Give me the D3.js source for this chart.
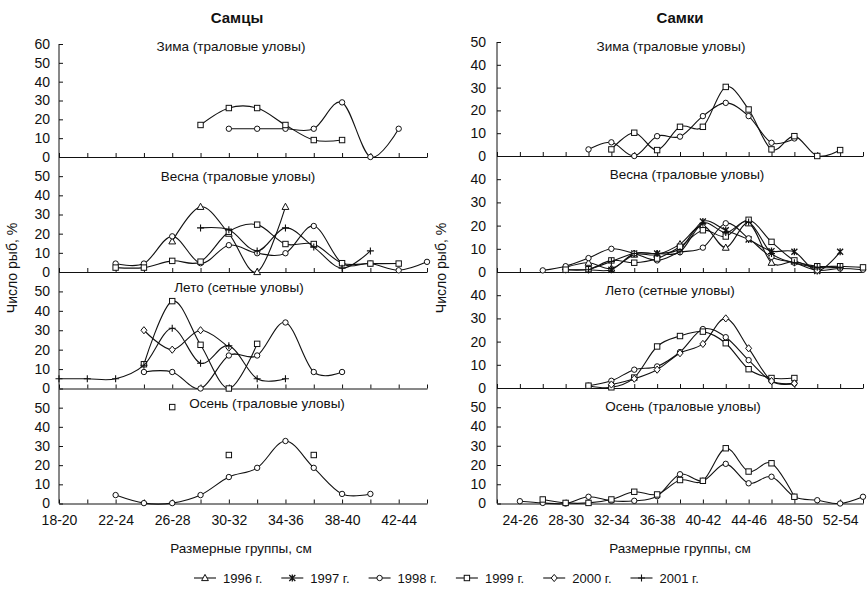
<!DOCTYPE html>
<html>
<head>
<meta charset="utf-8">
<script src="https://cdn.jsdelivr.net/npm/d3@7"></script>
<style>
  body { margin: 0; background: #fff; }
  text { font-family: "Liberation Sans", Arial, sans-serif; fill: #111; }
</style>
</head>
<body>
<div id="chart"></div>
<script>
const _ = null;

// size groups, cm
const maleCats = ["18-20","20-22","22-24","24-26","26-28","28-30","30-32","32-34",
                  "34-36","36-38","38-40","40-42","42-44","44-46"];
const femaleCats = ["22-24","24-26","26-28","28-30","30-32","32-34","34-36","36-38","38-40",
                    "40-42","42-44","44-46","46-48","48-50","50-52","52-54","54-56"];

const seasonTitles = ["Зима (траловые уловы)", "Весна (траловые уловы)",
                      "Лето (сетные уловы)", "Осень (траловые уловы)"];

const years = ["1996", "1997", "1998", "1999", "2000", "2001"];

// males, % of fish per size group
const maleWinter = {
  "1998": [_,_,_,_,_,_,15,15,15,15,29,0,15,_],
  "1999": [_,_,_,_,_,17,26,26,17,9,9,_,_,_]
};
const maleSpring = {
  "1996": [_,_,_,_,16,34,20,0,34,_,_,_,_,_],
  "1998": [_,_,4.4,4.4,18.6,4.6,14,9.8,9.8,24,4.5,4.4,0.9,5.3],
  "1999": [_,_,2.3,2.3,5.8,5.4,21,24.7,14.6,14.6,4.6,4.4,4.4,_],
  "2001": [_,_,_,_,_,23,22,11,23,13,2,11,_,_]
};
const maleSummer = {
  "1998": [_,_,_,8.5,8.5,0,17,17,34,8.5,8.5,_,_,_],
  "1999": [_,_,_,12.5,45,22.5,0,23,_,_,_,_,_,_],
  "2000": [_,_,_,30,20,30,21,_,_,_,_,_,_,_],
  "2001": [5,5,5,12,31,13,22,5,5,_,_,_,_,_]
};
const maleAutumn = {
  "1998": [_,_,4.4,0.2,0.2,4.4,13.8,18.6,32.6,18.6,5,5,_,_],
  "1999": [_,_,_,_,50.3,_,25.3,_,_,25.3,_,_,_,_]
};
const maleAutumnPointsOnly = ["1999"];

// females
const femaleWinter = {
  "1998": [_,_,_,_,2.9,6,0,8.7,8.5,17.5,23.3,17.5,5.8,7.7,_,_,_],
  "1999": [_,_,_,_,_,2.9,10.2,2.6,12.8,12.8,30.3,20.4,2.9,8.7,0,2.6,_]
};
const femaleSpring = {
  "1996": [_,_,_,2,4,1.5,7.5,7.5,12,20,10.5,21,4,4.5,1,_,_],
  "1997": [_,_,_,1,1,1,8,8,10,21.8,18,14,9,8.7,0.4,8.7,_],
  "1998": [_,_,0.7,2.5,6,10,8,5,8.5,10.5,21,14.5,6.5,4,0.7,1.5,1],
  "1999": [_,_,_,1,1.2,5,4,5.8,10.9,18,15.3,22.5,13,5,2.5,2.5,2],
  "2001": [_,_,_,_,1,4.5,8,8,8.7,21,17,21.5,8,4,2,2,_]
};
const femaleSummer = {
  "1998": [_,_,_,_,1,3.1,7.9,9.3,15.5,25.4,21.9,12,3,2,_,_,_],
  "1999": [_,_,_,_,1,0.3,4.5,17.9,22.4,24.3,19.3,8.1,4.3,4.3,_,_,_],
  "2000": [_,_,_,_,_,1.5,4,7.9,15,19,30,17.1,3,2,_,_,_]
};
const femaleAutumn = {
  "1998": [_,1.2,0.3,0,3.5,1.4,1.4,3.8,15.2,11.8,20.6,10.5,13.9,3.5,1.7,0,3.5],
  "1999": [_,_,2.1,0.3,0.3,2.1,6.1,4.7,12.2,11.8,28.7,16.6,20.9,3.5,_,_,_]
};

const width = 868, height = 590;
const markerOf = {"1996": "triangle", "1997": "star", "1998": "circle",
                  "1999": "square", "2000": "diamond", "2001": "plus"};

const sides = [
  { header: "Самцы", headerX: 237, cats: maleCats, x0: 59, x1: 427,
    tops: [44, 157, 272, 388.5], bottoms: [157, 272, 388.5, 503.5],
    yMax: [60, 60, 60, 60],
    yTicks: [[0,10,20,30,40,50,60],[0,10,20,30,40,50],[0,10,20,30,40,50],[0,10,20,30,40,50]],
    data: [maleWinter, maleSpring, maleSummer, maleAutumn],
    pointsOnly: [[], [], [], maleAutumnPointsOnly],
    titlePos: [[231, 51], [238, 181], [239, 292], [267, 408]],
    labelOffset: 0, pad: 9, yTitleX: 13, xTitleX: 241 },
  { header: "Самки", headerX: 680, cats: femaleCats, x0: 497, x1: 863,
    tops: [42, 156, 272, 388], bottoms: [156, 272, 388, 503.5],
    yMax: [50, 50, 50, 60],
    yTicks: [[0,10,20,30,40,50],[0,10,20,30,40],[0,10,20,30,40],[0,10,20,30,40,50]],
    data: [femaleWinter, femaleSpring, femaleSummer, femaleAutumn],
    pointsOnly: [[], [], [], []],
    titlePos: [[671, 51], [687, 179], [670, 295], [683, 411]],
    labelOffset: 1, pad: 11, yTitleX: 442, xTitleX: 680 }
];

const svg = d3.select("#chart").append("svg")
  .attr("width", width).attr("height", height);

function drawMarker(g, type, x, y) {
  if (type === "circle") {
    g.append("circle").attr("cx", x).attr("cy", y).attr("r", 2.7)
      .attr("fill", "#fff").attr("stroke", "#111").attr("stroke-width", 1);
  } else if (type === "square") {
    g.append("rect").attr("x", x - 2.7).attr("y", y - 2.7).attr("width", 5.4).attr("height", 5.4)
      .attr("fill", "#fff").attr("stroke", "#111").attr("stroke-width", 1);
  } else if (type === "triangle") {
    g.append("path").attr("d", `M${x},${y - 3.6}L${x + 3.4},${y + 2.6}L${x - 3.4},${y + 2.6}Z`)
      .attr("fill", "#fff").attr("stroke", "#111").attr("stroke-width", 1);
  } else if (type === "diamond") {
    g.append("path").attr("d", `M${x},${y - 3.6}L${x + 3},${y}L${x},${y + 3.6}L${x - 3},${y}Z`)
      .attr("fill", "#fff").attr("stroke", "#111").attr("stroke-width", 1);
  } else if (type === "plus") {
    g.append("path").attr("d", `M${x - 3.5},${y}H${x + 3.5}M${x},${y - 3.5}V${y + 3.5}`)
      .attr("fill", "none").attr("stroke", "#111").attr("stroke-width", 1.1);
  } else if (type === "star") {
    g.append("path").attr("d", `M${x - 3},${y - 3}L${x + 3},${y + 3}M${x + 3},${y - 3}L${x - 3},${y + 3}M${x},${y - 3.5}V${y + 3.5}`)
      .attr("fill", "none").attr("stroke", "#111").attr("stroke-width", 1.3);
  }
}

sides.forEach(side => {
  const x = d3.scalePoint().domain(side.cats).range([side.x0, side.x1]).padding(0);

  // header
  svg.append("text").attr("x", side.headerX).attr("y", 23)
    .attr("text-anchor", "middle").attr("font-size", 15).attr("font-weight", "bold")
    .text(side.header);

  // one long vertical axis line
  svg.append("line")
    .attr("x1", side.x0).attr("x2", side.x0)
    .attr("y1", side.tops[0]).attr("y2", side.bottoms[3])
    .attr("stroke", "#111").attr("stroke-width", 1);

  side.data.forEach((panel, p) => {
    const y = d3.scaleLinear().domain([0, side.yMax[p]]).range([side.bottoms[p], side.tops[p]]);

    // y axis ticks + labels
    const ya = svg.append("g").attr("transform", `translate(${side.x0},0)`)
      .call(d3.axisLeft(y).tickValues(side.yTicks[p]).tickSizeInner(-4).tickSizeOuter(0)
        .tickPadding(side.pad).tickFormat(d3.format("d")));
    ya.select(".domain").remove();
    ya.selectAll("line").attr("stroke", "#111");
    ya.selectAll("text").attr("font-size", 14).attr("font-family", "Liberation Sans, Arial, sans-serif")
      .attr("fill", "#111");

    // x axis at zero
    const last = p === 3;
    const xa = svg.append("g").attr("transform", `translate(0,${side.bottoms[p]})`)
      .call(d3.axisBottom(x).tickSizeInner(-4).tickSizeOuter(0).tickPadding(12)
        .tickFormat((d, i) => last && (i % 2 === side.labelOffset) ? d : ""));
    xa.selectAll("path, line").attr("stroke", "#111");
    xa.selectAll("text").attr("font-size", 14).attr("font-family", "Liberation Sans, Arial, sans-serif")
      .attr("fill", "#111");

    // panel title
    svg.append("text").attr("x", side.titlePos[p][0]).attr("y", side.titlePos[p][1])
      .attr("text-anchor", "middle").attr("font-size", 13.5).text(seasonTitles[p]);

    // series
    const line = d3.line()
      .defined(d => d.v != null)
      .x(d => x(d.c)).y(d => y(d.v))
      .curve(d3.curveCardinal.tension(0));

    Object.keys(panel).forEach(year => {
      const pts = panel[year].map((v, i) => ({ c: side.cats[i], v: v }));
      const g = svg.append("g");
      if (!side.pointsOnly[p].includes(year)) {
        g.append("path").attr("d", line(pts))
          .attr("fill", "none").attr("stroke", "#111").attr("stroke-width", 1.1);
      }
      pts.filter(d => d.v != null).forEach(d => drawMarker(g, markerOf[year], x(d.c), y(d.v)));
    });
  });

  // axis titles
  svg.append("text")
    .attr("transform", `translate(${side.yTitleX},268) rotate(-90)`)
    .attr("text-anchor", "middle").attr("dominant-baseline", "middle")
    .attr("font-size", 14).text("Число рыб, %");
  svg.append("text").attr("x", side.xTitleX).attr("y", 553)
    .attr("text-anchor", "middle").attr("font-size", 13.5).text("Размерные группы, см");
});

// legend
const legend = svg.append("g").attr("transform", "translate(194,578)");
years.forEach((yr, i) => {
  const g = legend.append("g").attr("transform", `translate(${i * 87.3},0)`);
  g.append("line").attr("x1", 0).attr("x2", 22).attr("y1", 0).attr("y2", 0)
    .attr("stroke", "#111").attr("stroke-width", 1.1);
  drawMarker(g, markerOf[yr], 11, 0);
  g.append("text").attr("x", 29).attr("y", 4.5).attr("font-size", 13).text(yr + " г.");
});
</script>
</body>
</html>
